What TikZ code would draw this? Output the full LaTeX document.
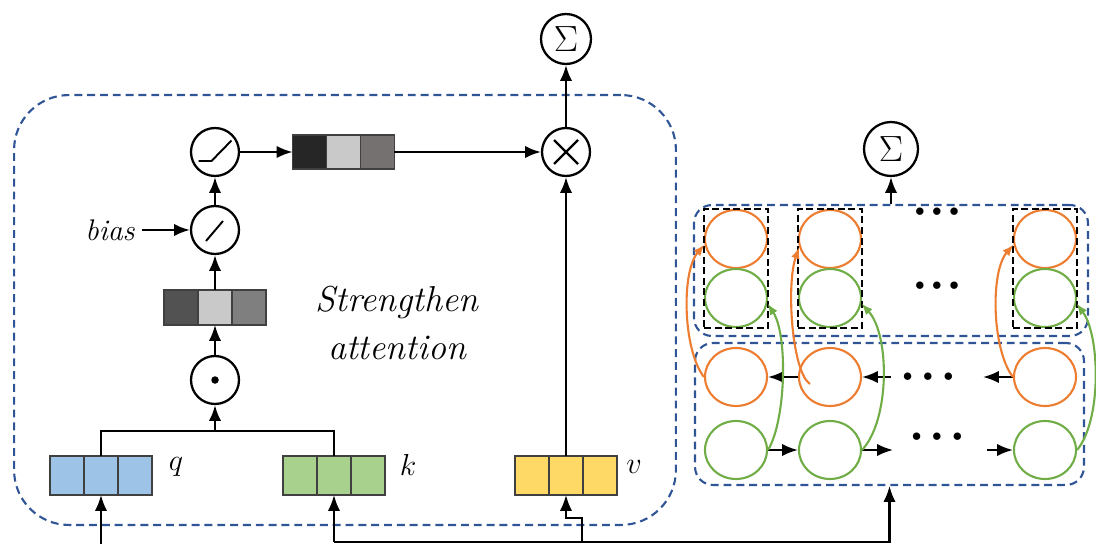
\documentclass[tikz,border=0pt]{standalone}
\usepackage{amsmath,amssymb,bm}
\usetikzlibrary{arrows,arrows.meta,positioning,fit,shapes.geometric}
\definecolor{boxblue}{HTML}{2F5597}
\definecolor{qblue}{HTML}{9DC3E6}
\definecolor{kgreen}{HTML}{A9D18E}
\definecolor{vyellow}{HTML}{FFD966}
\definecolor{rnnorange}{HTML}{ED7D31}
\definecolor{rnngreen}{HTML}{70AD47}
\definecolor{wdark}{HTML}{262626}
\definecolor{wlight}{HTML}{C9C9C9}
\definecolor{wmid}{HTML}{767171}
\definecolor{mdark}{HTML}{525252}
\definecolor{mmid}{HTML}{7F7F7F}
\tikzset{every picture/.style={line width=1.2pt}}
\tikzstyle{op}=[circle,draw,line width=1.3pt,minimum size=0.96cm,inner sep=0pt]
\tikzstyle{mult}=[op,path picture={\draw[line width=1.3pt]
  ([shift={(-0.24cm,-0.24cm)}]path picture bounding box.center) -- ([shift={(0.24cm,0.24cm)}]path picture bounding box.center)
  ([shift={(-0.24cm,0.24cm)}]path picture bounding box.center) -- ([shift={(0.24cm,-0.24cm)}]path picture bounding box.center);}]
\tikzstyle{linear}=[op,path picture={\draw[line width=1.1pt]
  ([shift={(-0.18cm,-0.22cm)}]path picture bounding box.center) -- ([shift={(0.16cm,0.18cm)}]path picture bounding box.center);}]
\tikzstyle{relu}=[op,path picture={\draw[line width=1.1pt]
  ([shift={(-0.33cm,-0.18cm)}]path picture bounding box.center) -- ([shift={(-0.07cm,-0.18cm)}]path picture bounding box.center)
  -- ([shift={(0.33cm,0.23cm)}]path picture bounding box.center);}]
\tikzstyle{hada}=[op,path picture={\fill (path picture bounding box.center) circle (0.075cm);}]
\tikzstyle{cell}=[draw=black!75,line width=0.7pt,minimum width=0.68cm,minimum height=0.78cm,inner sep=0pt,outer sep=0pt]
\tikzstyle{gcell}=[cell,minimum height=0.68cm]
\tikzstyle{unit}=[ellipse,draw,line width=1.2pt,minimum width=1.24cm,minimum height=1.16cm,inner sep=0pt]
\tikzstyle{grp}=[draw=boxblue,line width=1.2pt,dash pattern=on 4.5pt off 2.8pt,rounded corners=0.36cm,inner sep=0pt]
\tikzstyle{slot}=[draw,line width=1.3pt,dash pattern=on 4pt off 2pt,inner sep=0pt]
\tikzstyle{dots}=[font=\fontsize{11}{11}\selectfont,inner sep=0pt]
\tikzstyle{lbl}=[font=\fontsize{19}{20}\selectfont]
\tikzstyle{oarr}=[draw=rnnorange,-{Latex[length=6.5pt,width=5pt]}]
\tikzstyle{garr}=[draw=rnngreen,-{Latex[length=6.5pt,width=5pt]}]

\begin{document}
\begin{tikzpicture}[x=0.02cm,y=-0.02cm,>={Latex[length=9pt,width=7pt]}]
\useasboundingbox (0,0) rectangle (1096,544);
% attention block
\node[grp,rounded corners=1.1cm,minimum width=13.24cm,minimum height=8.6cm] (att) at (345,310) {};
\node[op,minimum size=1.0cm] (sumA) at (566,39) {\fontsize{22}{24}\selectfont$\Sigma$};
\node[mult] (mul) at (566,152) {};
\node[relu] (act) at (215,152) {};
\node[linear] (lin) at (215,230) {};
\node[hada] (had) at (215,380) {};
\node (bias) at (110,230) {\fontsize{17}{20}\selectfont\itshape bias};
\node[align=center,font=\fontsize{20.5}{27}\selectfont\itshape] (note) at (397,323) {Strengthen\\attention};

% weight vectors
\node[gcell,fill=wlight] (w2) at (343.5,152) {};
\node[gcell,fill=wdark,left=0pt of w2] (w1) {};
\node[gcell,fill=wmid,right=0pt of w2] (w3) {};
\node[gcell,fill=wlight,minimum height=0.7cm] (m2) at (215,307.5) {};
\node[gcell,fill=mdark,minimum height=0.7cm,left=0pt of m2] (m1) {};
\node[gcell,fill=mmid,minimum height=0.7cm,right=0pt of m2] (m3) {};

% q, k, v
\foreach \n/\x/\c in {q/101/qblue,k/334/kgreen,v/566/vyellow}{
  \node[cell,fill=\c] (\n2) at (\x,475.5) {};
  \node[cell,fill=\c,left=0pt of \n2] (\n1) {};
  \node[cell,fill=\c,right=0pt of \n2] (\n3) {};
}
\node[lbl] (qlab) at (176,467) {$q$};
\node[lbl] (klab) at (408,465) {$k$};
\node[lbl] (vlab) at (634,467) {$v$};

\coordinate (qk) at (215,431);
\draw (q2.north) |- (qk) -| (k2.north);
\path[->]
(qk) edge (had)
(had) edge (m2)
(m2) edge (lin)
(lin) edge (act)
(bias) edge (lin)
(act) edge (w1)
(w3) edge (mul)
(v2) edge (mul)
(mul) edge (sumA);

% recurrent block
\node[grp,minimum width=7.88cm,minimum height=2.62cm] (upper) at (891,270.5) {};
\node[grp,minimum width=7.78cm,minimum height=2.84cm] (lower) at (889.5,414) {};
\node[op,minimum size=1.08cm] (sumB) at (891,149) {\fontsize{22}{24}\selectfont$\Sigma$};
\draw[->] (upper.north) -- (sumB);
\foreach \i/\x in {1/736,2/830,3/1045}{
  \node[unit,draw=rnnorange] (ou\i) at (\x,239) {};
  \node[unit,draw=rnngreen] (gu\i) at (\x,298) {};
  \node[slot,fit=(ou\i)(gu\i)] (slot\i) {};
  \node[unit,draw=rnnorange] (ol\i) at (\x,377) {};
  \node[unit,draw=rnngreen] (gl\i) at (\x,450) {};
}
\node[dots] (du1) at (937,212) {$\bullet\,\bullet\,\bullet$};
\node[dots] (du2) at (937,286) {$\bullet\,\bullet\,\bullet$};
\node[dots] (dl1) at (928,377) {$\bullet\,\,\bullet\,\,\bullet$};
\node[dots] (dl2) at (937,437) {$\bullet\,\,\bullet\,\,\bullet$};

\coordinate (oin2) at (891,377);
\coordinate (oout3) at (983,377);
\coordinate (gout2) at (893,450);
\coordinate (gin3) at (987,450);
\path[->]
(ol2.west) edge (ol1.east)
(oin2) edge (ol2.east)
(ol3.west) edge (oout3)
(gl1.east) edge (gl2.west)
(gl2.east) edge (gout2)
(gin3) edge (gl3.west);

\coordinate (ohook) at (810,384);
\draw[oarr] (ol1.west) .. controls (683,350) and (681,272) .. (ou1.190);
\draw[oarr] (ohook) .. controls (792,372) and (786,285) .. (ou2.195);
\draw[oarr] (ol3.west) .. controls (992,350) and (990,272) .. (ou3.190);
\draw[garr] (gl1.east) .. controls (786,420) and (788,335) .. (gu1.350);
\draw[garr] (gl2.east) .. controls (890,420) and (890,335) .. (gu2.350);
\draw[garr] (gl3.east) .. controls (1102,420) and (1100,335) .. (gu3.350);

% inputs
\coordinate (qin) at (101,546);
\coordinate (kin) at (334,542);
\coordinate (vsplit) at (582,542);
\coordinate (vbend) at (582,518);
\draw[->] (qin) -- (q2.south);
\draw[->] (kin) -- (k2.south);
\draw[->] (kin) -| (lower.south);
\draw[->] (vsplit) -- (vbend) -| (v2.south);
\end{tikzpicture}
\end{document}
